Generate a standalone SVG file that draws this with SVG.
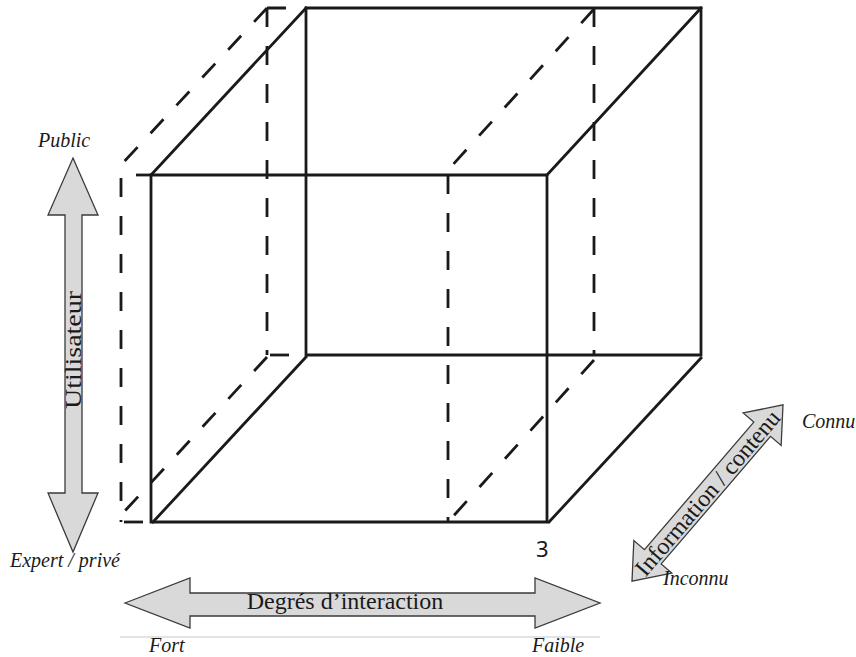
<svg xmlns="http://www.w3.org/2000/svg" width="856" height="657" viewBox="0 0 856 657">
<style>
.solid{fill:none;stroke:#1a1a1a;stroke-width:2.8;stroke-linecap:square;stroke-linejoin:miter}
.dash{fill:none;stroke:#1a1a1a;stroke-width:2.8;stroke-dasharray:19 19}
.arrow{fill:#d9d9d9;stroke:#3a3a3a;stroke-width:1.3;stroke-linejoin:miter}
.lbl{font-family:"Liberation Serif","Times New Roman","DejaVu Serif",serif;font-style:italic;font-size:20px;fill:#1a1a1a}
.axis{font-family:"Liberation Serif","Times New Roman","DejaVu Serif",serif;font-style:normal;font-weight:normal;font-size:24px;fill:#1a1a1a;text-anchor:middle}
</style>
<rect width="856" height="657" fill="#ffffff"/>
<g id="cube">
  <g id="dashed-planes">
    <path class="dash" d="M121,178 L121,522"/>
    <path class="dash" d="M267,8 L121,165"/>
    <path class="dash" d="M267,8 L306,8"/>
    <path class="dash" d="M267,8 L267,355"/>
    <path class="dash" d="M270,355 L306,355"/>
    <path class="dash" d="M267,357 L123,513"/>
    <path class="dash" d="M124,522 L151,522"/>
    <path class="dash" d="M136,175 L151,175"/>
    <path class="dash" d="M448,175 L448,522"/>
    <path class="dash" d="M594,8 L594,355"/>
    <path class="dash" d="M594,9 L448,170"/>
    <path class="dash" d="M594,360 L448,522"/>
  </g>
  <g id="solid-edges">
    <path class="solid" d="M151,175 L547,175 L547,522 L151,522 Z"/>
    <path class="solid" d="M306,8 L701,8 L701,355 L306,355 Z"/>
    <path class="solid" d="M151,175 L306,8"/>
    <path class="solid" d="M547,175 L701,8"/>
    <path class="solid" d="M549,522 L701,358"/>
    <path class="solid" d="M153,522 L306,357"/>
  </g>
</g>
<g id="connectors">
  <g id="axis-user">
    <polygon class="arrow" points="73,158 98,215 82,215 82,493 98,493 73,552 48,493 65,493 65,215 48,215"/>
    <text class="axis" transform="translate(73,350) rotate(-90)" x="0" y="8" font-size="26" textLength="118" lengthAdjust="spacingAndGlyphs">Utilisateur</text>
  </g>
  <g id="axis-interaction">
    <polygon class="arrow" points="125,603 190,578 190,593 535,593 535,578 600,603 535,628 535,616 190,616 190,628"/>
    <text class="axis" x="345" y="609">Degrés d’interaction</text>
  </g>
  <g id="axis-information">
    <polygon class="arrow" transform="translate(707.5,493) rotate(-49.4)" points="-116,0 -84,-25 -84,-11 84,-11 84,-25 116,0 84,25 84,11 -84,11 -84,25"/>
    <text class="axis" transform="translate(707.5,493) rotate(-49.4)" x="0" y="8">Information / contenu</text>
  </g>
  <line x1="120" y1="637" x2="600" y2="637" stroke="#c8c8c8" stroke-width="1.2"/>
</g>
<g id="labels">
  <text class="lbl" x="38" y="147">Public</text>
  <text class="lbl" x="10" y="567">Expert / privé</text>
  <text class="lbl" x="149" y="652">Fort</text>
  <text class="lbl" x="532" y="652">Faible</text>
  <text class="lbl" x="802" y="428">Connu</text>
  <text class="lbl" x="663" y="585">Inconnu</text>
  <text x="536" y="557" font-family="'Noto Sans','Open Sans',sans-serif" font-size="22" fill="#1a1a1a">3</text>
</g>
</svg>
